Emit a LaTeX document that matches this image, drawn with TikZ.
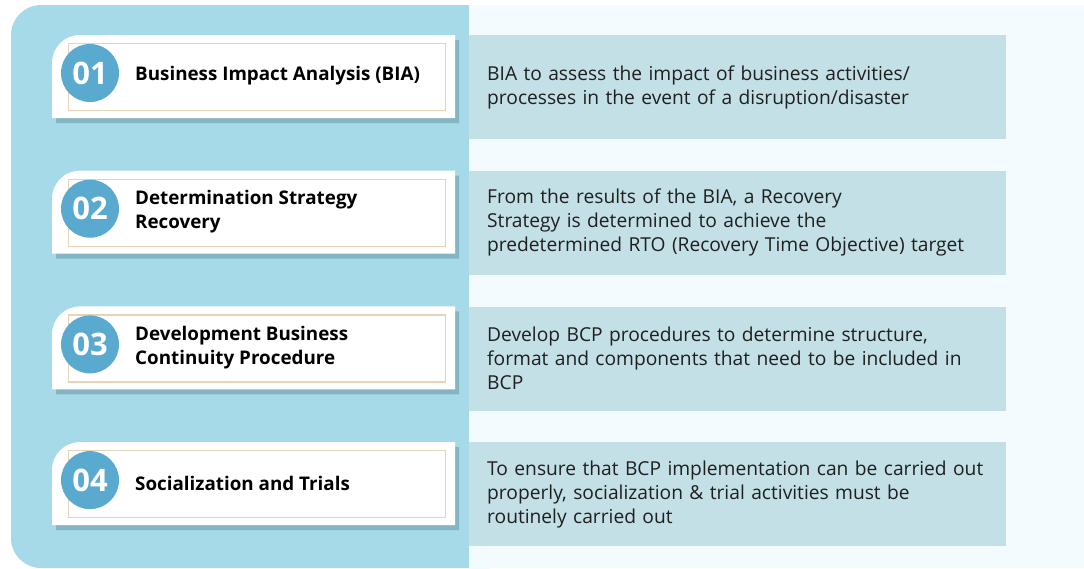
\documentclass[tikz,border=0pt]{standalone}
\usepackage{fontspec}
\setmainfont{Open Sans}
\usetikzlibrary{shadows}
\definecolor{panelblue}{HTML}{A6DAE9}
\definecolor{pagetint}{HTML}{F3FBFE}
\definecolor{descfill}{HTML}{C3E0E6}
\definecolor{numblue}{HTML}{5AA9CF}
\definecolor{tanline}{HTML}{E6D3B8}
\definecolor{shadowgray}{HTML}{5E8896}

\begin{document}
\begin{tikzpicture}[x=1pt,y=-1pt,
  numdot/.style={circle,fill=numblue,minimum size=58pt,inner sep=0pt,text=white,font=\fontsize{31}{31}\selectfont\bfseries},
  tanbox/.style={draw=tanline,line width=1.2pt,minimum width=377pt,minimum height=67pt,anchor=north west,inner sep=0pt},
  ttl/.style={anchor=west,align=left,inner sep=0pt,font=\fontsize{18.8}{23.5}\selectfont\bfseries,text=black},
  descbox/.style={fill=descfill,anchor=north west,minimum width=537pt,minimum height=104pt,text width=501pt,inner xsep=18pt,align=left,font=\fontsize{19.2}{24}\selectfont,text=black!88}]
\useasboundingbox (0,0) rectangle (1084,568);
\fill[panelblue,rounded corners=30pt] (11,5) rectangle (520,568);
\fill[pagetint] (469,5) rectangle (1084,568);
\foreach \i/\lab/\ttlx/\descx in {
  0/01/{Business Impact Analysis (BIA)}/{BIA to assess the impact of business activities/\\processes in the event of a disruption/disaster},
  1/02/{Determination Strategy\\Recovery}/{From the results of the BIA, a Recovery\\Strategy is determined to achieve the\\predetermined RTO (Recovery Time Objective) target},
  2/03/{Development Business\\Continuity Procedure}/{Develop BCP procedures to determine structure,\\format and components that need to be included in\\BCP},
  3/04/{Socialization and Trials}/{To ensure that BCP implementation can be carried out\\properly, socialization \& trial activities must be\\routinely carried out}} {
  \pgfmathsetmacro{\yy}{35+135.7*\i}
  \fill[white,drop shadow={shadow xshift=4pt,shadow yshift=-5pt,fill=shadowgray,opacity=.45}]
    (52,\yy+83) [rounded corners=28pt] |- (300,\yy) [sharp corners] -- (455,\yy) -- (455,\yy+83) -- cycle;
  \node[tanbox] (frame\i) at (68,\yy+8) {};
  \node[numdot] (dot\i) at (90,\yy+38) {\lab};
  \node[ttl] (ttl\i) at (135,\yy+41) {\ttlx};
  \node[descbox] (desc\i) at (469,\yy) {\descx};
}
\end{tikzpicture}
\end{document}
